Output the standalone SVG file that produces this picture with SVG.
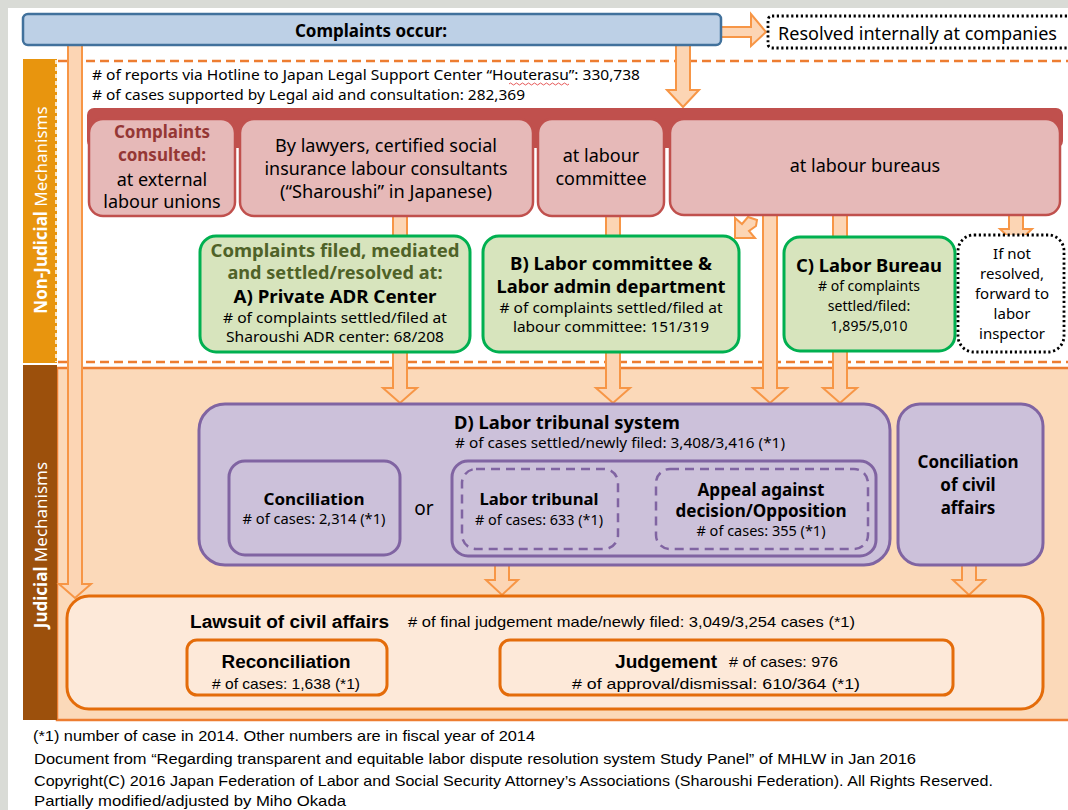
<svg xmlns="http://www.w3.org/2000/svg" width="1068" height="810" viewBox="0 0 1068 810">
<style>
text{font-family:"Noto Sans","Open Sans","DejaVu Sans",sans-serif;fill:#000}
.b{font-weight:bold}
.c{text-anchor:middle}
.ar{fill:#fcd5b4;stroke:#f79646;stroke-width:2;stroke-linejoin:miter}
.pink{fill:#e6b9b8;stroke:#c0504d;stroke-width:2.5}
.green{fill:#d7e4bd;stroke:#00b050;stroke-width:3}
.purp{fill:#ccc1da;stroke:#8064a2;stroke-width:3}
.dpurp{fill:none;stroke:#8064a2;stroke-width:2.5;stroke-dasharray:9 6}
.org{fill:#fde9d9;stroke:#e46c0a;stroke-width:3}
.dot{fill:#fff;stroke:#000;stroke-width:2.8;stroke-dasharray:2.2 2.6}
.s14{font-size:14px}
.s17{font-size:17px}
.s18{font-size:18px}
.nar{font-family:"Liberation Sans","Arial",sans-serif}
</style>
<!-- background -->
<rect x="0" y="0" width="1068" height="810" fill="#d9dbd6"/>
<rect x="8" y="8" width="1060" height="802" fill="#ffffff"/>

<!-- regions -->
<g id="non-judicial-region">
  <rect x="23" y="59" width="34" height="304" fill="#e8950e"/>
  <line x1="56" y1="60" x2="56" y2="362" stroke="#ffffff" stroke-width="1.5" stroke-dasharray="4 3"/>
  <line x1="58" y1="61" x2="1068" y2="61" stroke="#ed7d31" stroke-width="2.5" stroke-dasharray="9 5"/>
  <line x1="58" y1="362" x2="1068" y2="362" stroke="#ed7d31" stroke-width="2.5" stroke-dasharray="9 5"/>
  <text transform="translate(47,210) rotate(-90)" class="c s17" style="fill:#fff"><tspan class="b" style="fill:#fff">Non-Judicial</tspan> Mechanisms</text>
</g>
<g id="judicial-region">
  <rect x="57" y="368" width="1020" height="352" fill="#fbd9b9" stroke="#ed7d31" stroke-width="2.5"/>
  <rect x="23" y="365" width="34" height="355" fill="#9c500c"/>
  <text transform="translate(47,545) rotate(-90)" class="c s17" style="fill:#fff"><tspan class="b" style="fill:#fff">Judicial</tspan> Mechanisms</text>
</g>

<!-- connectors -->
<g id="connectors">
  <path class="ar" d="M721,27 L751,27 L751,14 L766,32 L751,46 L751,37 L721,37 Z"/>
  <path class="ar" d="M676,45 L690,45 L690,90 L699,90 L683,107 L667,90 L676,90 Z"/>
  <path class="ar" d="M68,45 L82,45 L82,584 L91,584 L75,598 L59,584 L68,584 Z"/>
  <path class="ar" d="M393,215 L407,215 L407,388 L417,388 L400,403 L383,388 L393,388 Z"/>
  <path class="ar" d="M606,215 L620,215 L620,388 L630,388 L613,403 L596,388 L606,388 Z"/>
  <path class="ar" d="M763,215 L777,215 L777,388 L787,388 L770,403 L753,388 L763,388 Z"/>
  <path class="ar" d="M833,215 L847,215 L847,388 L857,388 L840,403 L823,388 L833,388 Z"/>
  <path class="ar" d="M1009,214 L1023,214 L1023,229 L1032,229 L1016,244 L1000,229 L1009,229 Z"/>
  <path class="ar" d="M757,220 L748,217 L742,224 L735,218 L735,238 L755,238 L749,231 L756,226 Z"/>
  <path class="ar" d="M495,565 L509,565 L509,580 L518,580 L502,595 L486,580 L495,580 Z"/>
  <path class="ar" d="M962,565 L976,565 L976,580 L985,580 L969,595 L953,580 L962,580 Z"/>
  <path d="M621,504 L639,504 L639,496 L653,511 L639,526 L639,518 L621,518 Z" fill="#8064a2"/>
</g>

<!-- top nodes -->
<g id="complaints-occur">
  <rect x="23" y="14" width="698" height="31" rx="5" fill="#bdd0e6" stroke="#41719c" stroke-width="2.5"/>
  <text x="371" y="37" class="b c s17">Complaints occur:</text>
</g>
<g id="resolved-internally">
  <rect x="768" y="16" width="310" height="32" rx="4" class="dot"/>
  <text x="778" y="40" class="s18" textLength="279" lengthAdjust="spacingAndGlyphs">Resolved internally at companies</text>
</g>
<g id="stats">
  <text x="92" y="80" style="font-size:14.5px" textLength="548" lengthAdjust="spacingAndGlyphs"># of reports via Hotline to Japan Legal Support Center “Houterasu”: 330,738</text>
  <path d="M509,84 q1.5,-2 3,0 t3,0 t3,0 t3,0 t3,0 t3,0 t3,0 t3,0 t3,0 t3,0 t3,0 t3,0 t3,0 t3,0 t3,0 t3,0 t3,0 t3,0 t3,0 t3,0" fill="none" stroke="#e03030" stroke-width="0.8"/>
  <text x="92" y="100" style="font-size:14.5px" textLength="433" lengthAdjust="spacingAndGlyphs"># of cases supported by Legal aid and consultation: 282,369</text>
</g>

<g id="consult-bar">
  <rect x="87" y="108" width="976" height="40" rx="7" fill="#c0504d"/>
</g>
<g id="box-unions">
  <rect x="89" y="119" width="146" height="97" rx="14" class="pink"/>
  <text x="162" y="138" class="b c s17" style="fill:#953735">Complaints</text>
  <text x="162" y="161" class="b c s17" style="fill:#953735">consulted:</text>
  <text x="162" y="186" class="c s18">at external</text>
  <text x="162" y="208" class="c s18">labour unions</text>
</g>
<g id="box-lawyers">
  <rect x="240" y="119" width="293" height="97" rx="14" class="pink"/>
  <text x="386" y="152" class="c s18" textLength="222" lengthAdjust="spacingAndGlyphs">By lawyers, certified social</text>
  <text x="386" y="175" class="c s18" textLength="243" lengthAdjust="spacingAndGlyphs">insurance labour consultants</text>
  <text x="386" y="198" class="c s18" textLength="212" lengthAdjust="spacingAndGlyphs">(“Sharoushi” in Japanese)</text>
</g>
<g id="box-committee">
  <rect x="538" y="119" width="126" height="97" rx="14" class="pink"/>
  <text x="601" y="162" class="c s18">at labour</text>
  <text x="601" y="185" class="c s18">committee</text>
</g>
<g id="box-bureaus">
  <rect x="670" y="119" width="390" height="96" rx="14" class="pink"/>
  <text x="865" y="172" class="c s18">at labour bureaus</text>
</g>

<!-- green nodes -->
<g id="node-A">
  <rect x="200" y="236" width="270" height="116" rx="16" class="green"/>
  <text x="335" y="257" class="b c s17" style="fill:#4f6228" textLength="249" lengthAdjust="spacingAndGlyphs">Complaints filed, mediated</text>
  <text x="335" y="279" class="b c s17" style="fill:#4f6228" textLength="215" lengthAdjust="spacingAndGlyphs">and settled/resolved at:</text>
  <text x="335" y="303" class="b c s17" textLength="203" lengthAdjust="spacingAndGlyphs">A) Private ADR Center</text>
  <text x="335" y="323" class="c s14" textLength="224" lengthAdjust="spacingAndGlyphs"># of complaints settled/filed at</text>
  <text x="335" y="342" class="c s14" textLength="218" lengthAdjust="spacingAndGlyphs">Sharoushi ADR center: 68/208</text>
</g>
<g id="node-B">
  <rect x="483" y="236" width="256" height="116" rx="16" class="green"/>
  <text x="611" y="270" class="b c s17" textLength="202" lengthAdjust="spacingAndGlyphs">B) Labor committee &amp;</text>
  <text x="611" y="293" class="b c s17" textLength="229" lengthAdjust="spacingAndGlyphs">Labor admin department</text>
  <text x="611" y="313" class="c s14" textLength="223" lengthAdjust="spacingAndGlyphs"># of complaints settled/filed at</text>
  <text x="611" y="332" class="c s14" textLength="196" lengthAdjust="spacingAndGlyphs">labour committee: 151/319</text>
</g>
<g id="node-C">
  <rect x="784" y="237" width="171" height="114" rx="16" class="green"/>
  <text x="869" y="272" class="b c s17" textLength="146" lengthAdjust="spacingAndGlyphs">C) Labor Bureau</text>
  <text x="869" y="291" class="c s14"># of complaints</text>
  <text x="869" y="311" class="c s14">settled/filed:</text>
  <text x="869" y="331" class="c s14">1,895/5,010</text>
</g>
<g id="node-inspector">
  <rect x="958" y="235" width="106" height="117" rx="16" class="dot"/>
  <text x="1012" y="259" class="c" style="font-size:15px">If not</text>
  <text x="1012" y="279" class="c" style="font-size:15px">resolved,</text>
  <text x="1012" y="299" class="c" style="font-size:15px">forward to</text>
  <text x="1012" y="319" class="c" style="font-size:15px">labor</text>
  <text x="1012" y="339" class="c" style="font-size:15px">inspector</text>
</g>

<!-- judicial nodes -->
<g id="node-D">
  <rect x="199" y="404" width="691" height="161" rx="26" class="purp"/>
  <text x="567" y="429" class="b c s17" textLength="226" lengthAdjust="spacingAndGlyphs">D) Labor tribunal system</text>
  <text x="620" y="448" class="c s14" textLength="330" lengthAdjust="spacingAndGlyphs"># of cases settled/newly filed: 3,408/3,416 (*1)</text>
</g>
<g id="node-conciliation">
  <rect x="229" y="461" width="171" height="94" rx="16" class="purp"/>
  <text x="314" y="505" class="b c" style="font-size:16px" textLength="101" lengthAdjust="spacingAndGlyphs">Conciliation</text>
  <text x="314" y="524" class="c s14" textLength="143" lengthAdjust="spacingAndGlyphs"># of cases: 2,314 (*1)</text>
</g>
<text x="424" y="515" class="c" style="font-size:19px">or</text>
<g id="node-tribunal-group">
  <rect x="452" y="461" width="424" height="95" rx="16" class="purp"/>
</g>
<g id="node-labor-tribunal">
  <rect x="462" y="469" width="156" height="80" rx="14" class="dpurp"/>
  <text x="539" y="505" class="b c" style="font-size:15.5px" textLength="119" lengthAdjust="spacingAndGlyphs">Labor tribunal</text>
  <text x="539" y="525" class="c" style="font-size:13.5px" textLength="128" lengthAdjust="spacingAndGlyphs"># of cases: 633 (*1)</text>
</g>
<g id="node-appeal">
  <rect x="656" y="469" width="212" height="80" rx="14" class="dpurp"/>
  <text x="761" y="496" class="b c s17" textLength="127" lengthAdjust="spacingAndGlyphs">Appeal against</text>
  <text x="761" y="517" class="b c s17" textLength="171" lengthAdjust="spacingAndGlyphs">decision/Opposition</text>
  <text x="761" y="536" class="c s14" textLength="129" lengthAdjust="spacingAndGlyphs"># of cases: 355 (*1)</text>
</g>
<g id="node-civil-conciliation">
  <rect x="898" y="404" width="145" height="161" rx="22" class="purp"/>
  <text x="968" y="468" class="b c s17">Conciliation</text>
  <text x="968" y="491" class="b c s17">of civil</text>
  <text x="968" y="514" class="b c s17">affairs</text>
</g>
<g id="node-lawsuit">
  <rect x="67" y="596" width="976" height="113" rx="22" class="org"/>
  <text x="190" y="628" class="b nar s18" textLength="199" lengthAdjust="spacingAndGlyphs">Lawsuit of civil affairs</text>
  <text x="408" y="627" class="nar" style="font-size:15px" textLength="447" lengthAdjust="spacingAndGlyphs"># of final judgement made/newly filed:  3,049/3,254 cases (*1)</text>
</g>
<g id="node-reconciliation">
  <rect x="187" y="640" width="200" height="55" rx="10" class="org"/>
  <text x="286" y="668" class="b c nar s18" textLength="129" lengthAdjust="spacingAndGlyphs">Reconciliation</text>
  <text x="286" y="689" class="c nar" style="font-size:15px" textLength="148" lengthAdjust="spacingAndGlyphs"># of cases: 1,638 (*1)</text>
</g>
<g id="node-judgement">
  <rect x="500" y="640" width="453" height="55" rx="10" class="org"/>
  <text x="615" y="668" class="b nar s18" textLength="102" lengthAdjust="spacingAndGlyphs">Judgement</text>
  <text x="729" y="667" class="nar" style="font-size:15px" textLength="109" lengthAdjust="spacingAndGlyphs"># of cases: 976</text>
  <text x="716" y="689" class="c nar" style="font-size:15px" textLength="288" lengthAdjust="spacingAndGlyphs"># of approval/dismissal: 610/364 (*1)</text>
</g>

<!-- footer -->
<g id="footer">
  <text x="33" y="741" class="nar" style="font-size:15px" textLength="502" lengthAdjust="spacingAndGlyphs">(*1) number of case in 2014. Other numbers are  in fiscal year of 2014</text>
  <text x="34" y="764" class="nar" style="font-size:15px" textLength="882" lengthAdjust="spacingAndGlyphs">Document from “Regarding transparent and equitable labor dispute resolution system Study Panel” of MHLW in Jan 2016</text>
  <text x="34" y="786" class="nar" style="font-size:15px" textLength="959" lengthAdjust="spacingAndGlyphs">Copyright(C) 2016 Japan Federation of Labor and Social Security Attorney’s Associations (Sharoushi Federation). All Rights Reserved.</text>
  <text x="34" y="806" class="nar" style="font-size:15px" textLength="312" lengthAdjust="spacingAndGlyphs">Partially modified/adjusted by Miho Okada</text>
</g>
</svg>
